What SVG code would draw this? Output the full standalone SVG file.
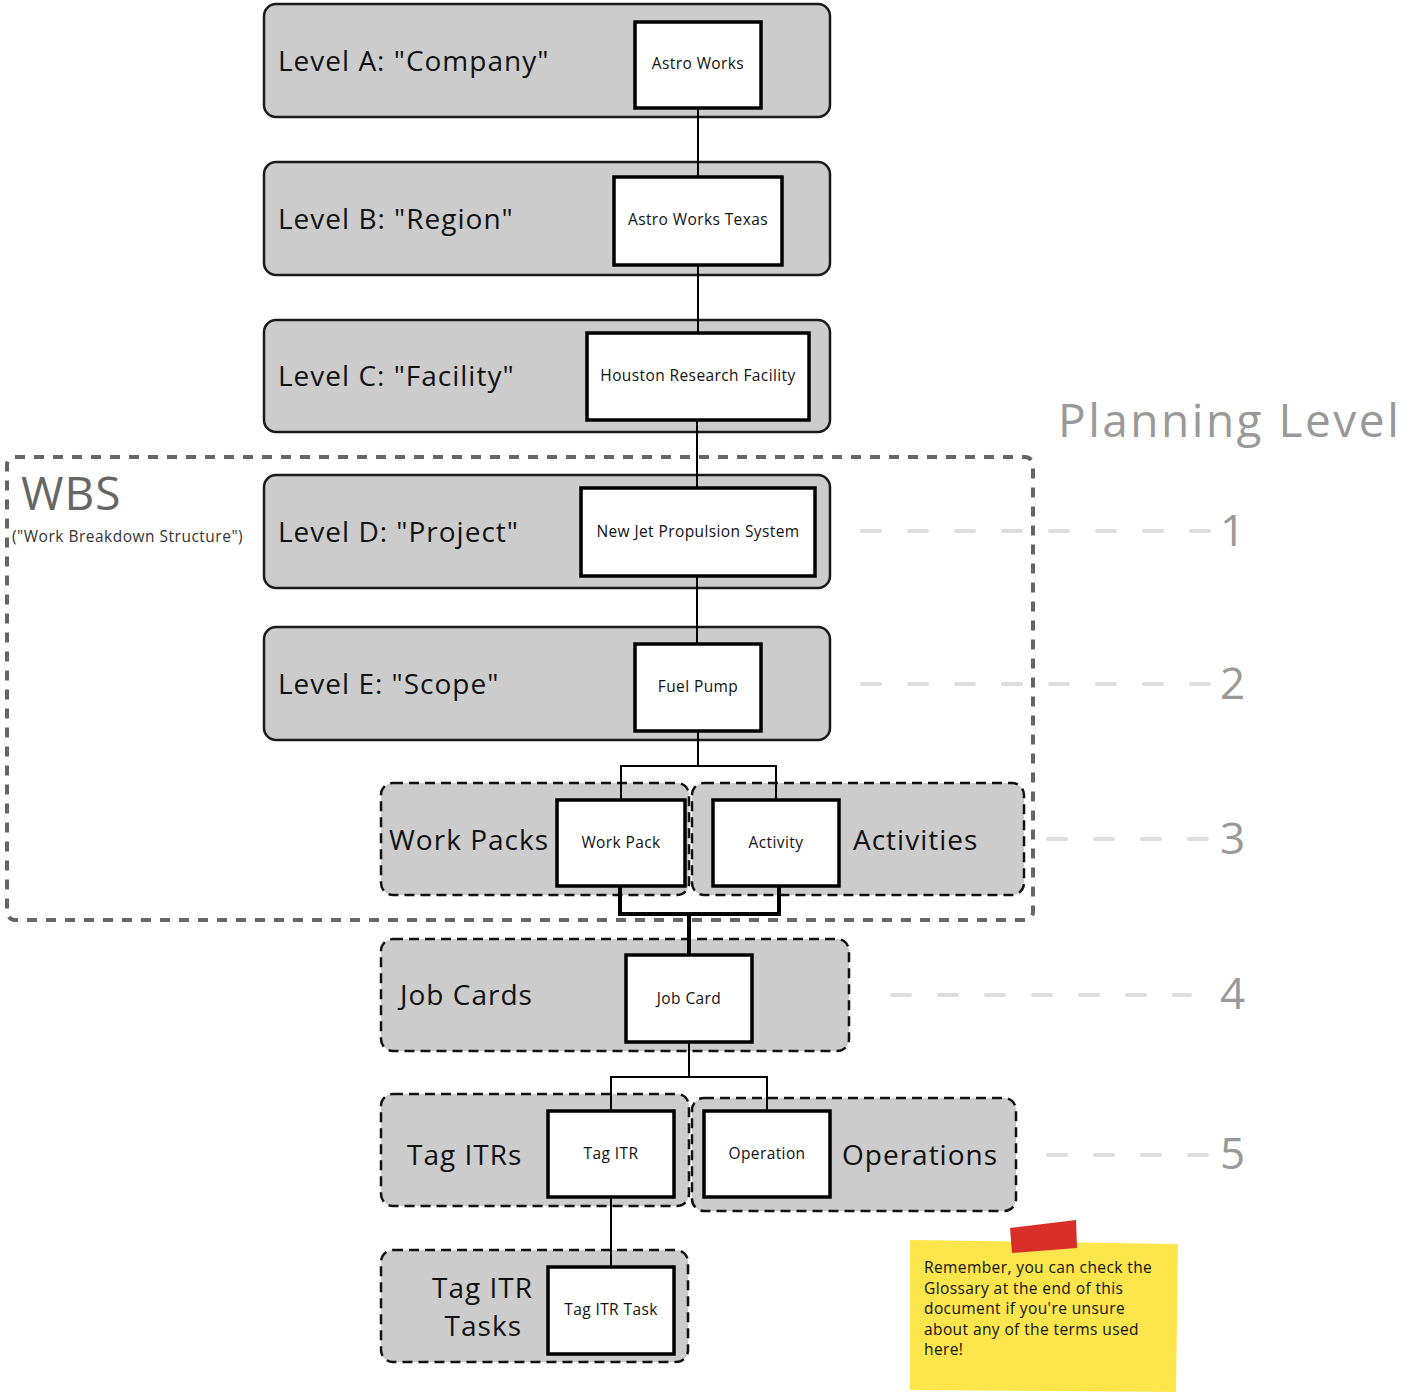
<svg xmlns="http://www.w3.org/2000/svg" width="1402" height="1394" viewBox="0 0 1402 1394">
<style>
text{font-family:"Open Sans","Lato","Liberation Sans",sans-serif;}
.lvl{fill:#cccccc;stroke:#1a1a1a;stroke-width:2.5;}
.grp{fill:#cccccc;stroke:#111;stroke-width:2.5;stroke-dasharray:10,6;}
.item{fill:#ffffff;stroke:#000;stroke-width:3.5;}
.big{font-size:28px;fill:#111;letter-spacing:1px;}
.small{font-size:15.5px;fill:#111;text-anchor:middle;letter-spacing:0.4px;}
.wbs{fill:none;stroke:#666;stroke-width:4;stroke-dasharray:10,9;}
.guide{stroke:#dddddd;stroke-width:4;stroke-linecap:round;stroke-dasharray:18,29;}
.num{font-size:44px;fill:#999;}
.con{fill:none;stroke:#000;stroke-width:2;}
.thick{fill:none;stroke:#000;stroke-width:4;}
.note{font-size:15.5px;fill:#111;letter-spacing:0.4px;}
</style>

<g id="wbs">
<rect class="wbs" x="7" y="457" width="1026" height="463" rx="8"/>
<text x="21" y="510" style="font-size:46px;fill:#666;letter-spacing:1px">WBS</text>
<text x="12" y="542" style="font-size:15.5px;fill:#333;letter-spacing:0.5px">("Work Breakdown Structure")</text>
</g>

<g id="guides">
<text x="1058" y="437" style="font-size:46px;fill:#999;letter-spacing:2.5px">Planning Level</text>
<line class="guide" x1="862" y1="531" x2="1210" y2="531"/>
<text class="num" x="1220" y="546">1</text>
<line class="guide" x1="862" y1="684" x2="1210" y2="684"/>
<text class="num" x="1220" y="699">2</text>
<line class="guide" x1="1048" y1="839" x2="1210" y2="839"/>
<text class="num" x="1220" y="854">3</text>
<line class="guide" x1="892" y1="995" x2="1190" y2="995"/>
<text class="num" x="1220" y="1009">4</text>
<line class="guide" x1="1048" y1="1155" x2="1210" y2="1155"/>
<text class="num" x="1220" y="1169">5</text>
</g>

<g id="levelA">
<rect class="lvl" x="264" y="4" width="566" height="113" rx="12"/>
<text class="big" x="278" y="71">Level A: "Company"</text>
<rect class="item" x="635" y="22" width="126" height="86"/>
<text class="small" x="698" y="69">Astro Works</text>
</g>
<g id="levelB">
<rect class="lvl" x="264" y="162" width="566" height="113" rx="12"/>
<text class="big" x="278" y="229">Level B: "Region"</text>
<rect class="item" x="614" y="177" width="168" height="88"/>
<text class="small" x="698" y="225">Astro Works Texas</text>
</g>
<g id="levelC">
<rect class="lvl" x="264" y="320" width="566" height="112" rx="12"/>
<text class="big" x="278" y="386">Level C: "Facility"</text>
<rect class="item" x="587" y="333" width="222" height="87"/>
<text class="small" x="698" y="381">Houston Research Facility</text>
</g>
<g id="levelD">
<rect class="lvl" x="264" y="475" width="566" height="113" rx="12"/>
<text class="big" x="278" y="542">Level D: "Project"</text>
<rect class="item" x="581" y="488" width="234" height="88"/>
<text class="small" x="698" y="537">New Jet Propulsion System</text>
</g>
<g id="levelE">
<rect class="lvl" x="264" y="627" width="566" height="113" rx="12"/>
<text class="big" x="278" y="694">Level E: "Scope"</text>
<rect class="item" x="635" y="644" width="126" height="87"/>
<text class="small" x="698" y="692">Fuel Pump</text>
</g>

<g id="workpacks">
<rect class="grp" x="381" y="783" width="308" height="112" rx="12"/>
<text class="big" x="389" y="850">Work Packs</text>
<rect class="item" x="557" y="800" width="128" height="86"/>
<text class="small" x="621" y="848">Work Pack</text>
</g>
<g id="activities">
<rect class="grp" x="692" y="783" width="332" height="112" rx="12"/>
<text class="big" x="853" y="850">Activities</text>
<rect class="item" x="713" y="800" width="126" height="86"/>
<text class="small" x="776" y="848">Activity</text>
</g>
<g id="jobcards">
<rect class="grp" x="381" y="939" width="468" height="112" rx="12"/>
<text class="big" x="400" y="1005">Job Cards</text>
<rect class="item" x="626" y="955" width="126" height="87"/>
<text class="small" x="689" y="1004">Job Card</text>
</g>
<g id="tagitrs">
<rect class="grp" x="381" y="1094" width="308" height="112" rx="12"/>
<text class="big" x="407" y="1165">Tag ITRs</text>
<rect class="item" x="548" y="1111" width="126" height="86"/>
<text class="small" x="611" y="1159">Tag ITR</text>
</g>
<g id="operations">
<rect class="grp" x="692" y="1098" width="324" height="113" rx="12"/>
<text class="big" x="842" y="1165">Operations</text>
<rect class="item" x="704" y="1111" width="126" height="86"/>
<text class="small" x="767" y="1159">Operation</text>
</g>
<g id="tagitrtasks">
<rect class="grp" x="381" y="1250" width="307" height="112" rx="12"/>
<text class="big" x="533" y="1298" text-anchor="end">Tag ITR</text>
<text class="big" x="522" y="1336" text-anchor="end">Tasks</text>
<rect class="item" x="548" y="1267" width="126" height="87"/>
<text class="small" x="611" y="1315">Tag ITR Task</text>
</g>

<g id="note">
<polygon points="910,1240 1178,1244 1176,1392 910,1390" fill="#fde64b"/>
<polygon points="1010,1228 1076,1220 1077,1248 1012,1253" fill="#d92e2a"/>
<text class="note" x="924" y="1273">Remember, you can check the</text>
<text class="note" x="924" y="1294">Glossary at the end of this</text>
<text class="note" x="924" y="1314">document if you're unsure</text>
<text class="note" x="924" y="1335">about any of the terms used</text>
<text class="note" x="924" y="1355">here!</text>
</g>

<g id="connectors">
<line class="con" x1="698" y1="108" x2="698" y2="177"/>
<line class="con" x1="698" y1="265" x2="698" y2="333"/>
<line class="con" x1="697" y1="420" x2="697" y2="488"/>
<line class="con" x1="697" y1="576" x2="697" y2="644"/>
<line class="con" x1="698" y1="731" x2="698" y2="766"/>
<polyline class="con" points="621,800 621,766 776,766 776,800"/>
<polyline class="thick" points="620,886 620,914 779,914 779,886"/>
<line class="thick" x1="689" y1="914" x2="689" y2="955"/>
<line class="con" x1="689" y1="1042" x2="689" y2="1077"/>
<polyline class="con" points="611,1111 611,1077 767,1077 767,1111"/>
<line class="con" x1="611" y1="1197" x2="611" y2="1267"/>
</g>
</svg>
